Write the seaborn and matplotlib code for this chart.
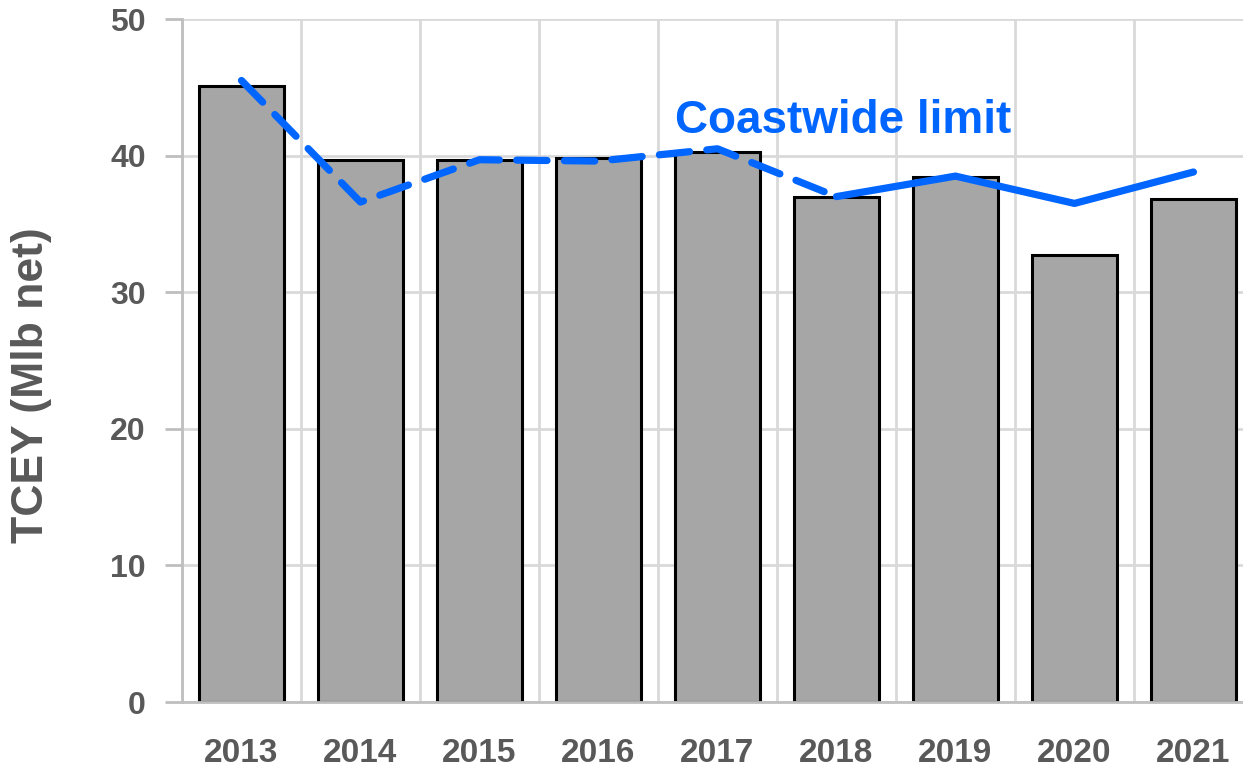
import matplotlib.pyplot as plt
import seaborn as sns
import pandas as pd

years = ["2013", "2014", "2015", "2016", "2017", "2018", "2019", "2020", "2021"]
tcey = [45.1, 39.7, 39.7, 39.8, 40.3, 37.0, 38.4, 32.7, 36.8]
limit = [45.5, 36.6, 39.7, 39.6, 40.5, 37.0, 38.5, 36.5, 38.8]
dashed_until = "2018"

sns.set_style("white")
plt.rcParams["font.family"] = ["Liberation Sans", "DejaVu Sans"]

df = pd.DataFrame({"year": years, "tcey": tcey, "limit": limit})

fig = plt.figure(figsize=(12.43, 7.70), dpi=100)
ax = fig.add_axes([0.1464, 0.0883, 0.8616, 0.887])

sns.barplot(data=df, x="year", y="tcey", color="#a6a6a6", saturation=1,
            width=0.71, edgecolor="black", linewidth=2.2, ax=ax, zorder=2)

# limit line: dashed up to 2018, solid after
split = years.index(dashed_until)
xs = list(range(len(years)))
blue = "#0066ff"
ax.plot(xs[:split + 1], limit[:split + 1], color=blue, lw=5.2,
        linestyle=(0, (4.2, 2.4)), dash_capstyle="round", zorder=3)
ax.plot(xs[split:], limit[split:], color=blue, lw=5.2,
        solid_capstyle="round", zorder=3)
ax.text(3.64, 41.65, "Coastwide limit", color=blue, fontsize=33,
        fontweight="bold", ha="left", va="baseline")

ax.set_xlim(-0.5, len(years) - 0.5)
ax.set_ylim(0, 50)
ax.set_yticks(range(0, 51, 10))
ax.set_xticks([i - 0.5 for i in range(len(years) + 1)], minor=True)

ax.grid(axis="y", color="#d9d9d9", lw=2, zorder=0)
ax.grid(axis="x", which="minor", color="#d9d9d9", lw=2, zorder=0)
ax.set_axisbelow(True)

for s in ["top", "right"]:
    ax.spines[s].set_visible(False)
for s in ["left", "bottom"]:
    ax.spines[s].set_color("#bfbfbf")
    ax.spines[s].set_linewidth(2)

ax.tick_params(axis="x", which="major", length=0, pad=26, labelsize=24,
               labelcolor="#595959")
ax.tick_params(axis="x", which="minor", length=12, width=2, color="#bfbfbf",
               direction="out")
ax.tick_params(axis="y", length=12, width=2, color="#bfbfbf", pad=14,
               labelsize=23, labelcolor="#595959", left=True)
for lab in ax.get_xticklabels() + ax.get_yticklabels():
    lab.set_fontweight("heavy")

ax.set_xlabel("")
ax.set_ylabel("TCEY (Mlb net)", fontsize=32, fontweight="bold",
              color="#595959")
ax.yaxis.set_label_coords(-0.121, 0.464)

fig.savefig("out.png", dpi=100)
